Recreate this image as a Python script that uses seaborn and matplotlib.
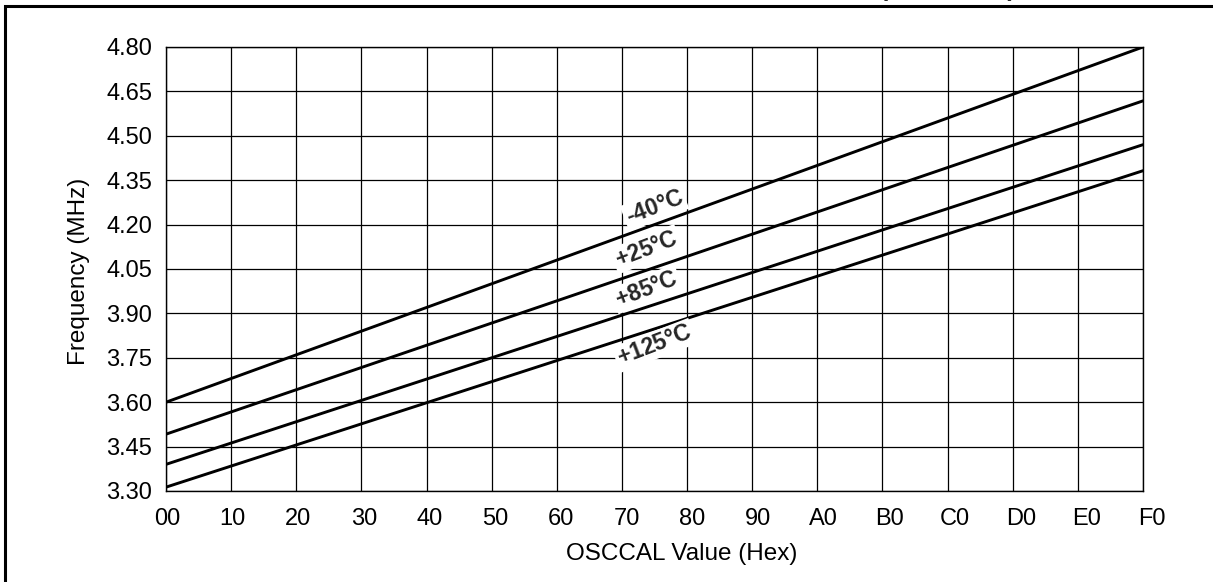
import matplotlib
matplotlib.use('Agg')
import matplotlib.pyplot as plt
import seaborn as sns
import pandas as pd
from matplotlib.patches import Rectangle
from matplotlib.transforms import ScaledTranslation

# Datos (frecuencia en MHz en OSCCAL = 0x00 y 0xF0)
osccal = [0x00, 0xF0]
temperaturas = ['-40', '+25', '+85', '+125']
frec_m40 = [3.600, 4.800]
frec_25 = [3.492, 4.618]
frec_85 = [3.390, 4.470]
frec_125 = [3.313, 4.382]

# Posición de las etiquetas (x, y en unidades de datos)
etiqueta_x = [120, 118, 118, 120]
etiqueta_y = [4.258, 4.117, 3.982, 3.792]

y_ticks = [3.30 + 0.15 * i for i in range(11)]
x_ticks = list(range(0x00, 0xF1, 0x10))

df = pd.DataFrame({
    'osccal': osccal * 4,
    'frecuencia': frec_m40 + frec_25 + frec_85 + frec_125,
    'temp': [t for t in temperaturas for _ in osccal],
})

sns.set_style('white')
plt.rcParams['font.family'] = ['Liberation Sans', 'DejaVu Sans']
plt.rcParams['mathtext.fontset'] = 'custom'
plt.rcParams['mathtext.rm'] = 'Liberation Sans'

fig = plt.figure(figsize=(12.13, 5.82), dpi=100)
W, H = 1213, 582
ax = fig.add_axes([166 / W, (H - 491) / H, (1143 - 166) / W, (491 - 47) / H])

sns.lineplot(data=df, x='osccal', y='frecuencia', hue='temp',
             palette=['black'] * 4, linewidth=2.1, legend=False, ax=ax)

ax.set_xlim(0x00, 0xF0)
ax.set_ylim(3.30, 4.80)
ax.set_xticks(x_ticks)
ax.set_xticklabels(['%02X' % v for v in x_ticks])
ax.set_yticks(y_ticks)
ax.set_yticklabels(['%.2f' % v for v in y_ticks])
ax.grid(True, color='black', linewidth=0.9)
for s in ax.spines.values():
    s.set_color('black')
    s.set_linewidth(1.0)
ax.tick_params(length=0, labelsize=17, colors='black')
ax.tick_params(axis='y', pad=10)
ax.tick_params(axis='x', pad=12)

# las etiquetas del eje x del original se desplazan poco a poco a la derecha
for i, lbl in enumerate(ax.get_xticklabels()):
    lbl.set_transform(lbl.get_transform() +
                      ScaledTranslation((1 + 0.55 * i) / 100, 0, fig.dpi_scale_trans))

ax.set_xlabel('OSCCAL Value (Hex)', fontsize=17.5, color='black')
ax.set_ylabel('Frequency (MHz)', fontsize=17.5, color='black')
ax.xaxis.set_label_coords(0.528, -0.117)
ax.yaxis.set_label_coords(-0.078, 0.495)

for t, x, y in zip(temperaturas, etiqueta_x, etiqueta_y):
    ax.text(x, y, t + r'$\mathregular{°}$' + 'C', fontsize=16.5, fontweight='bold',
            rotation=21, ha='center', va='center', rotation_mode='anchor',
            bbox=dict(facecolor='white', edgecolor='none', pad=1.5), zorder=5)

# Marco exterior de la figura
fig.patches.append(Rectangle((4.5 / W, -0.1), 1.2, (H - 5.5) / H + 0.1,
                             transform=fig.transFigure, fill=False,
                             edgecolor='black', linewidth=2.2))
fig.text(880 / W, 1 + 4 / H, '(Continued)', fontsize=17.5, fontweight='bold',
         ha='left', va='baseline')

fig.savefig('out.png', dpi=100)
